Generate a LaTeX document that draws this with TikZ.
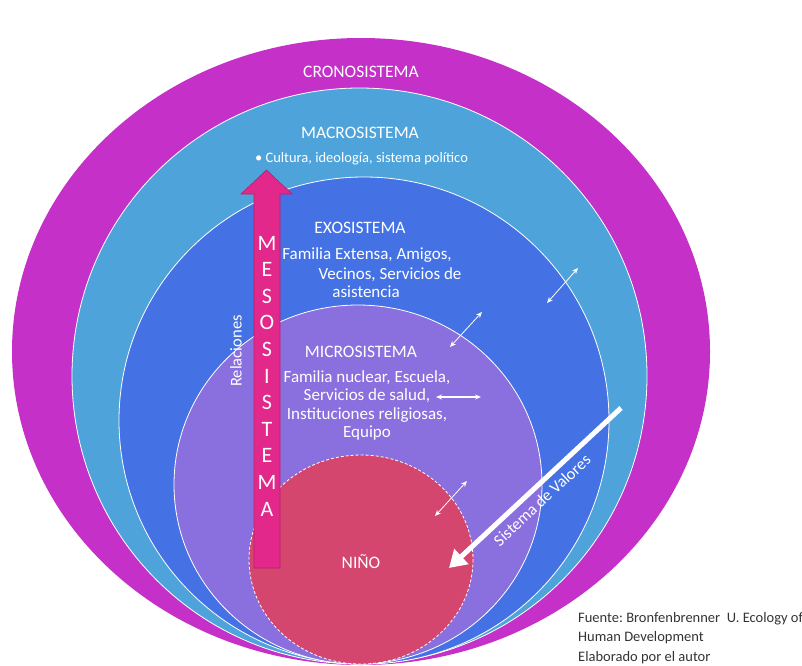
\documentclass[tikz,border=0pt]{standalone}
\usepackage{fontspec}
\setmainfont{Carlito}
\usetikzlibrary{arrows.meta, positioning}

\definecolor{crono}{RGB}{196,48,200}
\definecolor{macro}{RGB}{78,164,218}
\definecolor{exo}{RGB}{68,114,228}
\definecolor{micro}{RGB}{138,111,222}
\definecolor{nino}{RGB}{212,70,110}
\definecolor{meso}{RGB}{226,40,138}

\tikzset{
    ring/.style={draw=white, line width=0.8pt},
    systitle/.style={text=white, inner sep=0pt, font=\fontsize{17.5}{17.5}\selectfont},
    systext/.style={text=white, inner sep=0pt, font=\fontsize{17}{18}\selectfont},
    link/.style={draw=white, line width=0.8pt, {Stealth[length=6pt,width=5pt]}-{Stealth[length=6pt,width=5pt]}},
}

\begin{document}
\begin{tikzpicture}[x=1pt, y=-1pt]
    \useasboundingbox (0,0) rectangle (802,665);
    % nested systems
    \fill[crono] (361,351.5) ellipse [x radius=349, y radius=313.5];
    \path[fill=macro, ring] (359.5,376) ellipse [x radius=287.5, y radius=288];
    \path[fill=exo, ring] (364,420.5) ellipse [x radius=245, y radius=243.5];
    \path[fill=micro, ring] (358,484.5) ellipse [x radius=184, y radius=179.5];
    \path[fill=nino, draw=white, dash pattern=on 3pt off 2pt, line width=0.8pt]
        (361,559.5) ellipse [x radius=112, y radius=104.5];

    % mesosistema arrow
    \fill[meso, draw=meso!80!black, line width=0.6pt]
        (254,568) -- (254,194) -- (241,194) -- (266.5,170) -- (292,194) -- (280,194) -- (280,568) -- cycle;
    \node[text=white, inner sep=0pt, align=center, font=\fontsize{22}{26.6}\selectfont] (meso) at (267,376)
        {M\\E\\S\\O\\S\\I\\S\\T\\E\\M\\A};
    \node[text=white, inner sep=0pt, rotate=90, font=\fontsize{16.5}{16.5}\selectfont] (rel) at (236,351) {Relaciones};

    % labels
    \node[systitle] (crono) at (361,72) {CRONOSISTEMA};
    \node[systitle] (macro) at (360,133) {MACROSISTEMA};
    \node[text=white, inner sep=0pt, font=\fontsize{14.5}{14.5}\selectfont] (cultura) at (361.5,159)
        {\textbullet\ Cultura, ideología, sistema político};
    \node[systitle] (exo) at (360,228) {EXOSISTEMA};
    \node[systext] (exoA) at (367,255) {Familia Extensa, Amigos,};
    \node[systext] (exoB) at (390,275) {Vecinos, Servicios de};
    \node[systext] (exoC) at (366,292) {asistencia};
    \node[systitle] (micro) at (361,352) {MICROSISTEMA};
    \node[systext, align=center, font=\fontsize{17}{18.3}\selectfont] (microtext) at (367,405.5)
        {Familia nuclear, Escuela,\\Servicios de salud,\\Instituciones religiosas,\\Equipo};
    \node[systitle] (nino) at (361,562) {NIÑO};

    % interactions
    \coordinate (l1a) at (547,303);
    \coordinate (l1b) at (578,268);
    \coordinate (l2a) at (450,347);
    \coordinate (l2b) at (482,312);
    \coordinate (l3a) at (436,397);
    \coordinate (l3b) at (481,397);
    \coordinate (l4a) at (435,516);
    \coordinate (l4b) at (467,481);
    \draw[link] (l1a) -- (l1b);
    \draw[link] (l2a) -- (l2b);
    \draw[link, line width=1.8pt] (l3a) -- (l3b);
    \draw[link] (l4a) -- (l4b);

    % sistema de valores
    \coordinate (valA) at (621,408);
    \coordinate (valB) at (449,568);
    \draw[white, line width=5pt, -{Triangle[length=17pt,width=20pt]}] (valA) -- (valB);
    \node[text=white, inner sep=0pt, rotate=43, font=\fontsize{16.5}{16.5}\selectfont] (valores) at (542,500)
        {Sistema de Valores};

    % source
    \node[anchor=north west, inner sep=0pt, align=left, text=black!80, font=\fontsize{14.5}{19.5}\selectfont] (fuente) at (578,612)
        {Fuente:\ Bronfenbrenner\ \ U. Ecology of\\Human Development\\Elaborado por el autor};
\end{tikzpicture}
\end{document}
